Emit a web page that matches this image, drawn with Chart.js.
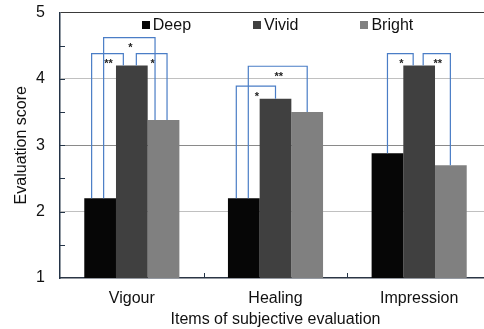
<!DOCTYPE html>
<html>
<head>
<meta charset="utf-8">
<script src="https://cdn.jsdelivr.net/npm/chart.js@4/dist/chart.umd.min.js"></script>
<style>
  html, body { margin: 0; padding: 0; background: #fff; overflow: hidden; }
  #wrap { width: 484px; height: 329px; overflow: hidden; }
</style>
</head>
<body>
<div id="wrap"><canvas id="c" width="491" height="329"></canvas></div>
<script>
var categories = ["Vigour", "Healing", "Impression"];
var seriesNames = ["Deep", "Vivid", "Bright"];
var deepValues = [2.2, 2.2, 2.88];
var vividValues = [4.2, 3.7, 4.2];
var brightValues = [3.38, 3.5, 2.7];
var yTicks = [1, 2, 3, 4, 5];

// significance brackets: group, from series, to series, top value, mark
var bracketGroup = [0, 0, 0, 1, 1, 2, 2];
var bracketFrom = [0, 1, 0, 0, 0, 0, 1];
var bracketTo = [1, 2, 2, 1, 2, 1, 2];
var bracketTop = [4.38, 4.38, 4.62, 3.89, 4.19, 4.38, 4.38];
var bracketMark = ["**", "*", "*", "*", "**", "*", "**"];

// leg offsets from the bar centre, in px (drawing only)
var legShiftL = [-8.5, 4.5, 3.5, -7.5, 4.5, 0, 4];
var legShiftR = [-8.5, 3.5, -8.5, 0, 0, -6, -0.5];

var barColors = ["#060606", "#404040", "#808080"];
var FONT = "'Liberation Sans', Arial, sans-serif";

var decor = {
  id: "decor",
  afterDraw: function (chart) {
    var ctx = chart.ctx, area = chart.chartArea;
    var ys = chart.scales.y, xs = chart.scales.x;
    ctx.save();
    // inward y ticks every 0.5
    ctx.strokeStyle = "#243447";
    ctx.lineWidth = 1;
    for (var v = 1.5; v <= 4.5; v += 0.5) {
      var py = Math.round(ys.getPixelForValue(v)) + 0.5;
      ctx.beginPath(); ctx.moveTo(area.left, py); ctx.lineTo(area.left + 5, py); ctx.stroke();
    }
    // inward x ticks at category boundaries
    for (var i = 1; i < categories.length; i++) {
      var px = Math.round((xs.getPixelForValue(i - 1) + xs.getPixelForValue(i)) / 2) + 0.5;
      ctx.beginPath(); ctx.moveTo(px, area.bottom); ctx.lineTo(px, area.bottom - 5); ctx.stroke();
    }
    // brackets
    ctx.strokeStyle = "#4a7dc6";
    ctx.lineWidth = 1.2;
    ctx.fillStyle = "#222";
    ctx.font = "bold 11px " + FONT;
    ctx.textAlign = "center";
    ctx.textBaseline = "middle";
    for (var k = 0; k < bracketGroup.length; k++) {
      var g = bracketGroup[k];
      var barA = chart.getDatasetMeta(bracketFrom[k]).data[g];
      var barB = chart.getDatasetMeta(bracketTo[k]).data[g];
      var xa = barA.x + legShiftL[k], xb = barB.x + legShiftR[k];
      var ya = barA.y, yb = barB.y;
      var yt = ys.getPixelForValue(bracketTop[k]);
      ctx.beginPath();
      ctx.moveTo(xa, ya); ctx.lineTo(xa, yt); ctx.lineTo(xb, yt); ctx.lineTo(xb, yb);
      ctx.stroke();
      ctx.fillText(bracketMark[k], (xa + xb) / 2 + 1, yt + 10.5);
    }
    // legend inside plot
    ctx.font = "16px " + FONT;
    ctx.textAlign = "left";
    var widths = [], total = 0, gap = 62;
    for (var s = 0; s < seriesNames.length; s++) {
      widths[s] = 11 + ctx.measureText(seriesNames[s]).width;
      total += widths[s];
    }
    total += gap * (seriesNames.length - 1);
    var lx = (area.left + area.right) / 2 + 2 - total / 2, ly = 25;
    for (s = 0; s < seriesNames.length; s++) {
      ctx.fillStyle = barColors[s];
      ctx.fillRect(Math.round(lx), ly - 4, 8, 8);
      ctx.fillStyle = "#111";
      ctx.fillText(seriesNames[s], lx + 11, ly + 1);
      lx += widths[s] + gap;
    }
    ctx.restore();
  }
};

new Chart(document.getElementById("c"), {
  type: "bar",
  data: {
    labels: categories,
    datasets: [
      { label: seriesNames[0], data: deepValues, backgroundColor: barColors[0] },
      { label: seriesNames[1], data: vividValues, backgroundColor: barColors[1] },
      { label: seriesNames[2], data: brightValues, backgroundColor: barColors[2] }
    ]
  },
  options: {
    responsive: false,
    animation: false,
    devicePixelRatio: 1,
    layout: { padding: { top: 12.5, right: 0, left: 0, bottom: 0 } },
    datasets: { bar: { categoryPercentage: 0.662, barPercentage: 1, borderWidth: 0 } },
    plugins: { legend: { display: false }, tooltip: { enabled: false } },
    scales: {
      x: {
        grid: { display: false, drawTicks: false },
        border: { display: true, color: "#2b3544", width: 1.5 },
        ticks: { color: "#111", font: { family: FONT, size: 16 }, padding: 11 },
        title: { display: true, text: "Items of subjective evaluation", color: "#111",
                 font: { family: FONT, size: 16 }, padding: { top: 0, bottom: 0 } },
        afterFit: function (scale) { scale.height = 51; scale.paddingLeft = 0; scale.paddingRight = 0; }
      },
      y: {
        min: 1, max: 5,
        afterBuildTicks: function (scale) { scale.ticks = yTicks.map(function (v) { return { value: v }; }); },
        grid: {
          drawTicks: false,
          color: function (c) {
            var v = c.tick && c.tick.value;
            if (v === 5) return "#3a3a3a";
            if (v === 3) return "#8a8a8a";
            if (v === 1) return "rgba(0,0,0,0)";
            return "#c0c0c0";
          }
        },
        border: { display: true, color: "#243447", width: 1.5 },
        ticks: { color: "#111", font: { family: FONT, size: 16 }, padding: 15 },
        title: { display: true, text: "Evaluation score", color: "#111",
                 font: { family: FONT, size: 16 }, padding: { top: 12, bottom: 0 } },
        afterFit: function (scale) { scale.width = 60; scale.paddingTop = 0; scale.paddingBottom = 0; }
      }
    }
  },
  plugins: [decor]
});
</script>
</body>
</html>
